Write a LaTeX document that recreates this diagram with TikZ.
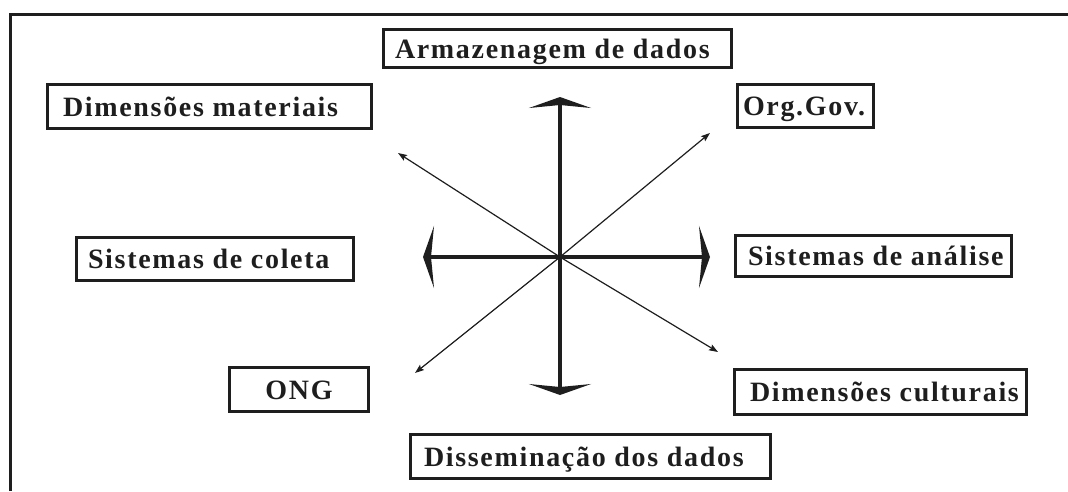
\documentclass[tikz,border=0pt]{standalone}
\usepackage{fontspec}
\newfontfamily\lblfont{Liberation Serif}[LetterSpace=6]
\usetikzlibrary{arrows.meta}
\definecolor{ink}{HTML}{1E1E1E}
\begin{document}
\begin{tikzpicture}[x=1pt,y=-1pt,
  box/.style={draw=ink, line width=2.8pt, inner ysep=0pt, text height=19pt, text depth=0pt,
    font=\lblfont\bfseries\fontsize{28}{32}\selectfont, text=ink},
  bigarr/.style={draw=ink, line width=4.5pt, line join=miter,
    -{Stealth[length=11pt,width=62pt,inset=3pt]}},
  thinarr/.style={draw=ink, line width=1.2pt,
    -{Stealth[length=9pt,width=6.5pt,inset=1.5pt]}}
]
\useasboundingbox (0,0) rectangle (1068,491);
% frame
\draw[ink, line width=3pt] (10,491) -- (10,14) -- (1068,14);

% boxes
\node[box, inner xsep=11.5pt, minimum height=38pt] (arm) at (557.5,48.5)
  {\makebox[325pt][l]{Armazenagem de dados}};
\node[box, inner xsep=15.5pt, minimum height=44pt] (dm) at (209.5,106.5)
  {\makebox[293pt][l]{Dimensões materiais}};
\node[box, inner xsep=5.5pt, minimum height=43pt] (org) at (805.5,106)
  {\makebox[125pt][l]{Org.Gov.}};
\node[box, inner xsep=11.5pt, minimum height=43pt] (sc) at (215,259)
  {\makebox[254pt][l]{Sistemas de coleta}};
\node[box, inner xsep=12.5pt, minimum height=41pt] (sa) at (873.5,256)
  {\makebox[251pt][l]{Sistemas de análise}};
\node[box, inner xsep=0pt, minimum width=139pt, minimum height=44pt] (ong) at (299,389.5)
  {ONG};
\node[box, inner xsep=15.5pt, minimum height=45pt] (dc) at (880.5,392)
  {\makebox[261pt][l]{Dimensões culturais}};
\node[box, inner xsep=13.5pt, minimum height=44pt] (dd) at (590.5,456.5)
  {\makebox[333pt][l]{Disseminação dos dados}};

% star
\coordinate (c) at (560,257);
\coordinate (ttop) at (560,97);
\coordinate (tbot) at (560,395);
\coordinate (tleft) at (423,257);
\coordinate (tright) at (710,257);
\coordinate (ul) at (398,153);
\coordinate (ur) at (710,133);
\coordinate (ll) at (415,373);
\coordinate (lr) at (718,352);

\draw[thinarr] (c) -- (ul);
\draw[thinarr] (c) -- (ur);
\draw[thinarr] (c) -- (ll);
\draw[thinarr] (c) -- (lr);
\draw[bigarr] (c) -- (ttop);
\draw[bigarr] (c) -- (tbot);
\draw[bigarr] (c) -- (tleft);
\draw[bigarr] (c) -- (tright);
\end{tikzpicture}
\end{document}
